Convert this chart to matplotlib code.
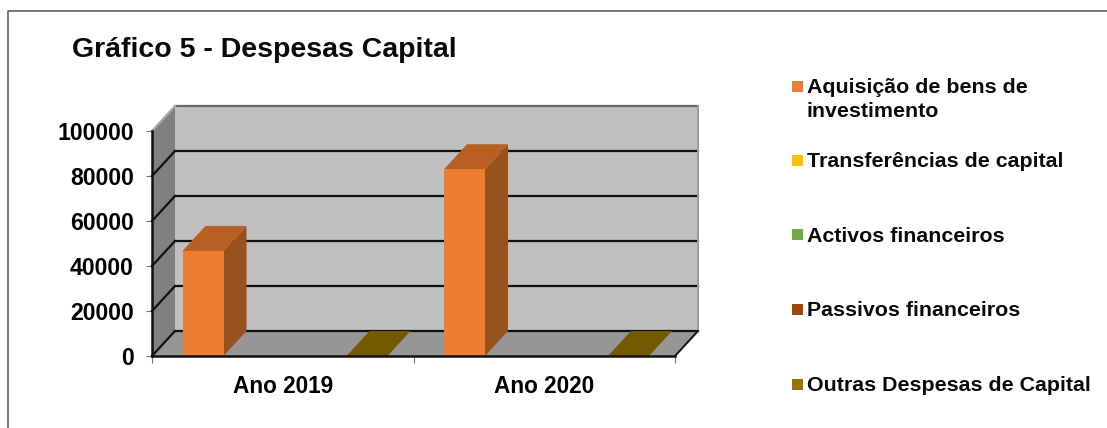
import matplotlib.pyplot as plt
from matplotlib.lines import Line2D
from matplotlib.patches import Rectangle

plt.rcParams['font.family'] = ['Liberation Sans', 'DejaVu Sans']
plt.rcParams['font.weight'] = 'bold'

categories = ["Ano 2019", "Ano 2020"]
series_names = ["Aquisição de bens de\ninvestimento", "Transferências de capital",
                "Activos financeiros", "Passivos financeiros", "Outras Despesas de Capital"]
# None means nothing drawn for that series, 0 still gives a flat bar
series_values = [[46700, 83000], [None, None], [None, None], [None, None], [0, 0]]
y_ticks = [0, 20000, 40000, 60000, 80000, 100000]

# front, top and side shades for each series
front_colors = ["#ED7D31", "#FFC000", "#70AD47", "#9E480E", "#997300"]
top_colors = ["#B85F22", "#C79500", "#578637", "#7B380B", "#735A00"]
side_colors = ["#97521D", "#A37A00", "#476E2D", "#652E09", "#5E4A00"]

W, H = 1107, 428
fig = plt.figure(figsize=(W / 100, H / 100), dpi=100)
ax = fig.add_axes([152 / W, (H - 356) / H, 523 / W, 225 / H])
ax.set_xlim(0, 2)
ax.set_ylim(0, 100000)
ax.patch.set_visible(False)

# depth of the fake 3d box, in data units
dx = 23 / 261.5
dy = 25 / 225 * 100000


def poly(xs, ys, color, z):
    ax.fill(xs, ys, color=color, lw=0, clip_on=False, zorder=z)


top = y_ticks[-1]
poly([dx, 2 + dx, 2 + dx, dx], [dy, dy, top + dy, top + dy], "#C0C0C0", 1)
poly([0, dx, dx, 0], [0, dy, top + dy, top], "#808080", 1)
poly([0, 2, 2 + dx, dx], [0, 0, dy, dy], "#969696", 1)

# gridlines run along the back wall and down the side wall
for v in y_ticks:
    is_top = v == top
    c = "#666666" if is_top else "#111111"
    ax.plot([dx, 2 + dx], [v + dy, v + dy], color=c, lw=1.6, clip_on=False, zorder=2)
    ax.plot([0, dx], [v, v + dy], color="#AAAAAA" if is_top else "#111111", lw=1.6,
            clip_on=False, zorder=2)
ax.plot([2 + dx, 2 + dx], [dy, top + dy], color="#999999", lw=1.4, clip_on=False, zorder=2)
ax.plot([2, 2 + dx], [0, dy], color="#111111", lw=1.4, clip_on=False, zorder=2)

gap = 30.5 / 261.5
slot = 41 / 261.5
bar_w = 41 / 261.5
for s, vals in enumerate(series_values):
    for c, v in enumerate(vals):
        if v is None:
            continue
        x0 = c + gap + s * slot
        x1 = x0 + bar_w
        poly([x1, x1 + dx, x1 + dx, x1], [0, dy, v + dy, v], side_colors[s], 3)
        poly([x0, x1, x1 + dx, x0 + dx], [v, v, v + dy, v + dy], top_colors[s], 3)
        ax.fill_between([x0, x1], 0, v, color=front_colors[s], lw=0, zorder=4)

for name in ["top", "right"]:
    ax.spines[name].set_visible(False)
for name in ["left", "bottom"]:
    ax.spines[name].set_linewidth(1.8)
    ax.spines[name].set_color("#111111")
    ax.spines[name].set_zorder(5)

ax.set_yticks(y_ticks)
ax.set_yticklabels([str(v) for v in y_ticks], fontsize=16.6, fontweight="bold")
ax.tick_params(axis="y", length=4, width=0.8, color="#777777", pad=9)
ax.set_xticks([0, 1, 2])
ax.set_xticklabels([])
ax.set_xticks([0.5, 1.5], minor=True)
ax.set_xticklabels(categories, minor=True, fontsize=16.3, fontweight="bold")
ax.tick_params(axis="x", which="major", length=5, width=0.8, color="#777777")
ax.tick_params(axis="x", which="minor", length=0, pad=14)


def fx(px):
    return px / W


def fy(py):
    return (H - py) / H


# outer chart frame, only the left and top sides are inside the crop
fig.add_artist(Line2D([fx(8), fx(8), fx(W)], [fy(H), fy(11), fy(11)], color="#555555", lw=1.1))

fig.text(fx(72), fy(50), "Gráfico 5 - Despesas Capital", fontsize=20.5, fontweight="bold",
         va="center", ha="left", color="#0A0A0A")

legend_y = [86, 160, 234.5, 309.5, 384]
for name, color, y in zip(series_names, front_colors, legend_y):
    fig.add_artist(Rectangle((fx(792), fy(y + 5.5)), 11 / W, 11 / H, color=color, lw=0,
                             transform=fig.transFigure))
    fig.text(fx(807), fy(y - 8), name, fontsize=15.4, fontweight="bold", va="top", ha="left",
             linespacing=1.33, color="#0A0A0A")

fig.savefig("out.png", dpi=100)
